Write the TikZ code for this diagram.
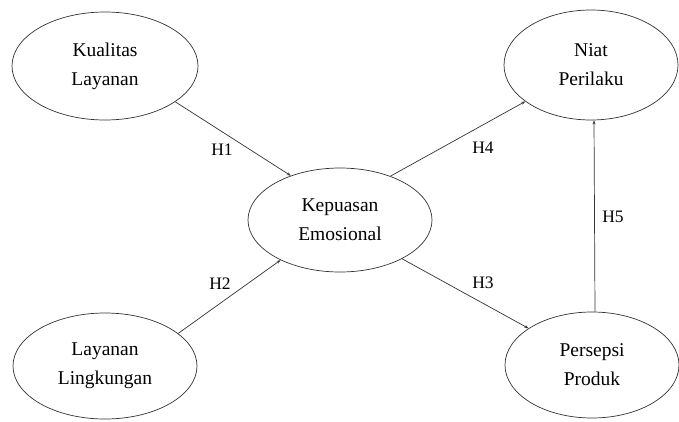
\documentclass[tikz,border=0pt]{standalone}
\usepackage{fontspec}
\setmainfont{Liberation Serif}
\usetikzlibrary{arrows.meta,shapes.geometric}
\begin{document}
\begin{tikzpicture}[x=1pt,y=-1pt,
  var/.style={draw=black!80,line width=0.7pt,ellipse,inner sep=0pt,text=black,
    font=\fontsize{19.5}{29}\selectfont,align=center},
  link/.style={draw=black!80,line width=0.7pt,-{Stealth[length=4pt,width=3pt]}},
  hyp/.style={text=black,font=\fontsize{17.5}{20}\selectfont,inner sep=0pt}]
\useasboundingbox (0,0) rectangle (679,421);
\node[var,minimum width=186pt,minimum height=108pt] (kl) at (105,66) {Kualitas\\Layanan};
\node[var,minimum width=184pt,minimum height=106pt] (ll) at (105,366) {Layanan\\Lingkungan};
\node[var,minimum width=184pt,minimum height=104pt] (ke) at (340,220) {Kepuasan\\Emosional};
\node[var,minimum width=174pt,minimum height=110pt] (np) at (591,65) {Niat\\Perilaku};
\node[var,minimum width=174pt,minimum height=106pt] (pp) at (592,365) {Persepsi\\Produk};
\draw[link] (kl.-27) -- (ke.138);
\draw[link] (ll.24) -- (ke.214);
\draw[link] (ke.-32) -- (pp.150);
\draw[link] (ke.41) -- (np.209);
\draw[link] ([xshift=3pt]pp.north) -- ([xshift=3pt]np.south);
\node[hyp] (h1) at (222,150) {H1};
\node[hyp] (h2) at (220,284) {H2};
\node[hyp] (h3) at (483,283) {H3};
\node[hyp] (h4) at (483,148) {H4};
\node[hyp] (h5) at (613,217) {H5};
\end{tikzpicture}
\end{document}
